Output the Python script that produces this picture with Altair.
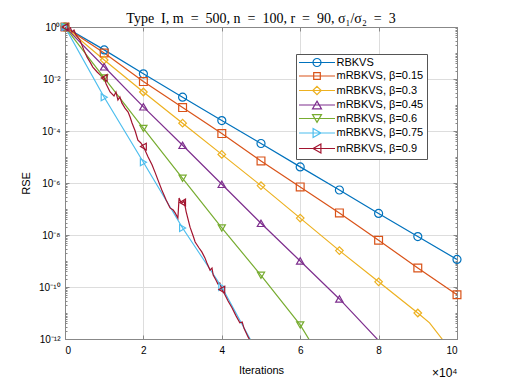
import altair as alt
import pandas as pd

series_names = ["RBKVS", "mRBKVS, β=0.15", "mRBKVS, β=0.3", "mRBKVS, β=0.45",
                "mRBKVS, β=0.6", "mRBKVS, β=0.75", "mRBKVS, β=0.9"]
colors = ["#0072BD", "#D95319", "#EDB120", "#7E2F8E", "#77AC30", "#4DBEEE", "#A2142F"]
marker_shapes = ["circle", "square", "diamond", "triangle-up", "triangle-down",
                 "triangle-right", "triangle-left"]
marker_sizes = [64, 45, 64, 81, 81, 81, 81]

# iterations (x 10^4) and log10(RSE)
rbkvs_x = [0, 1, 2, 3, 4, 5, 6, 7, 8, 9, 10]
rbkvs_log10 = [0, -0.88, -1.80, -2.70, -3.60, -4.48, -5.38, -6.27, -7.17, -8.06, -8.94]

b015_x = [0, 1, 2, 3, 4, 5, 6, 7, 8, 9, 10]
b015_log10 = [0, -1.00, -2.10, -3.10, -4.10, -5.15, -6.15, -7.15, -8.20, -9.27, -10.30]

b03_x = [0, 1, 2, 3, 4, 5, 6, 7, 8, 9, 9.3, 9.62, 9.7]
b03_log10 = [0, -1.27, -2.50, -3.70, -4.90, -6.10, -7.35, -8.60, -9.80, -11.00, -11.38, -12.0, -12.2]

b045_x = [0, 1, 2, 3, 4, 5, 6, 7, 8.0]
b045_log10 = [0, -1.53, -3.07, -4.55, -6.05, -7.55, -9.00, -10.46, -12.06]

b06_x = [0, 1, 2, 3, 4, 5, 6, 6.3]
b06_log10 = [0, -1.96, -3.90, -5.82, -7.73, -9.55, -11.46, -12.2]

b075_x = [0, 1, 2, 3, 4, 4.8]
b075_log10 = [0, -2.70, -5.20, -7.73, -10.00, -12.22]

b09_x = [0, 0.08, 0.13, 0.18, 0.23, 0.28, 0.38, 0.48, 0.56, 0.64, 0.71, 0.82, 0.92, 1.0,
         1.05, 1.15, 1.25, 1.3, 1.35, 1.4, 1.45, 1.53, 1.61, 1.66, 1.71, 1.79, 1.86, 1.93, 2.0,
         2.12, 2.22, 2.3, 2.37, 2.47, 2.58, 2.68, 2.76, 2.81, 2.88, 2.91, 2.95, 3.0,
         3.04, 3.09, 3.19, 3.27, 3.32, 3.42, 3.49, 3.57, 3.62, 3.7, 3.75, 3.78, 3.85, 3.9, 3.95, 4.0,
         4.08, 4.16, 4.26, 4.36, 4.46, 4.52, 4.57, 4.67, 4.74, 4.8]
b09_log10 = [0, -0.12, 0.0, -0.19, -0.12, -0.31, -0.5, -0.88, -1.15, -1.35, -1.54, -1.73, -1.88, -1.96,
             -2.19, -2.5, -2.65, -2.5, -2.81, -2.69, -2.92, -3.12, -3.27, -3.46, -3.69, -4.0, -4.35, -4.45, -4.6,
             -5.0, -5.3, -5.6, -5.88, -6.27, -6.65, -6.96, -7.04, -7.15, -7.35, -6.58, -6.72, -6.75,
             -6.7, -7.1, -7.7, -8.04, -8.27, -8.5, -8.65, -8.88, -9.08, -9.35, -9.27, -9.54, -9.73, -9.88, -9.85, -10.1,
             -10.3, -10.54, -10.8, -11.1, -11.38, -11.35, -11.6, -11.92, -12.1, -12.3]

x_tick_values = [0, 2, 4, 6, 8, 10]
y_major_exponents = [0, -2, -4, -6, -8, -10, -12]
y_major_labels = ["10⁰", "10⁻²", "10⁻⁴", "10⁻⁶", "10⁻⁸", "10⁻¹⁰", "10⁻¹²"]

all_x = [rbkvs_x, b015_x, b03_x, b045_x, b06_x, b075_x, b09_x]
all_log = [rbkvs_log10, b015_log10, b03_log10, b045_log10, b06_log10, b075_log10, b09_log10]

rows = []
for name, xs_, ls in zip(series_names, all_x, all_log):
    assert len(xs_) == len(ls)
    for xv, lv in zip(xs_, ls):
        rows.append({"series": name, "x": xv, "rse": 10.0 ** lv,
                     "marker": (float(xv).is_integer() and lv >= -12.0)})
df = pd.DataFrame(rows)
df["series_m"] = df["series"]
markers_df = df[df["marker"]].copy()
legend_df = markers_df[markers_df["x"] == 0].copy()

y_major = [10.0 ** e for e in y_major_exponents]
y_minor = []
for e in range(-12, 0):
    for k in range(1, 10):
        if k == 1 and e % 2 == 0:
            continue
        y_minor.append(k * 10.0 ** e)

W, H = 392, 312
label_expr = "[" + ",".join("'%s'" % s for s in y_major_labels) + "][round(-log(datum.value)/LN10/2)]"

# legend symbols: line segment + marker outline (unit = sqrt(size)/2 = 3.5 px)
line_seg = "M-5.14,0L5.14,0"
legend_paths = [
    line_seg + "M1.143,0A1.143,1.143,0,1,1,-1.143,0A1.143,1.143,0,1,1,1.143,0Z",
    line_seg + "M-0.943,-0.943L0.943,-0.943L0.943,0.943L-0.943,0.943Z",
    line_seg + "M0,-1.2L1.2,0L0,1.2L-1.2,0Z",
    line_seg + "M0,-1.114L1.286,1.114L-1.286,1.114Z",
    line_seg + "M0,1.114L1.286,-1.114L-1.286,-1.114Z",
    line_seg + "M1.114,0L-1.114,-1.286L-1.114,1.286Z",
    line_seg + "M-1.114,0L1.114,-1.286L1.114,1.286Z",
]

xs = alt.Scale(domain=[0, 10], nice=False, zero=False)
ys = alt.Scale(type="log", domain=[1e-12, 1], nice=False)
cscale = alt.Scale(domain=series_names, range=colors)

tick_col = "#262626"
fw = "normal"
sans = "Liberation Sans"

legend_props = dict(padding=3, strokeColor="#555555", fillColor="white", labelFont=sans,
                    labelFontSize=11, labelColor="#000000", symbolSize=49, symbolStrokeWidth=1.2,
                    symbolOffset=12.5, labelOffset=14, rowPadding=0.5, symbolOpacity=1,
                    labelLimit=300, cornerRadius=0)

lines = alt.Chart(df).mark_line(clip=True, strokeWidth=1.2).encode(
    x=alt.X("x:Q", scale=xs, axis=alt.Axis(orient="bottom", values=x_tick_values, ticks=False,
                                           tickSize=0, labelPadding=6, title="Iterations",
                                           titleY=34, titleBaseline="alphabetic",
                                           titleFontWeight=fw)),
    y=alt.Y("rse:Q", scale=ys, axis=alt.Axis(orient="left", values=y_major, labelExpr=label_expr,
                                             ticks=False, tickSize=0, labelPadding=5, title="RSE",
                                             titleX=-34, titleY=H / 2, titleFontWeight=fw)),
    color=alt.Color("series:N", scale=cscale, legend=None),
)

markers = alt.Chart(markers_df).mark_point(filled=False, strokeWidth=1.2, opacity=1).encode(
    x=alt.X("x:Q", scale=xs, axis=alt.Axis(orient="top", offset=-H, values=x_tick_values,
                                           labels=False, tickSize=4, title=None)),
    y=alt.Y("rse:Q", scale=ys, axis=alt.Axis(orient="right", offset=-W, values=y_major,
                                             labels=False, tickSize=4, title=None)),
    color=alt.Color("series:N", scale=cscale, legend=None),
    shape=alt.Shape("series_m:N", scale=alt.Scale(domain=series_names, range=marker_shapes), legend=None),
    size=alt.Size("series_m:N", scale=alt.Scale(domain=series_names, range=marker_sizes), legend=None),
)

leg = alt.Legend(title=None, orient="none", legendX=231, legendY=27, **legend_props)

legend_layer = alt.Chart(legend_df).mark_point(filled=False, strokeWidth=1.2, size=49, opacity=0).encode(
    x=alt.X("x:Q", scale=xs, axis=alt.Axis(orient="bottom", offset=-H, values=x_tick_values,
                                           labels=False, tickSize=4, title=None)),
    y=alt.Y("rse:Q", scale=ys, axis=alt.Axis(orient="right", offset=-W, values=y_minor,
                                             labels=False, tickSize=2, title=None)),
    color=alt.Color("series:N", scale=cscale, legend=leg),
    shape=alt.Shape("series:N", scale=alt.Scale(domain=series_names, range=legend_paths), legend=leg),
)

extra1 = alt.Chart(legend_df).mark_point(opacity=0).encode(
    x=alt.X("x:Q", scale=xs, axis=alt.Axis(orient="bottom", labels=False, ticks=False, tickSize=0,
                                           title="×10⁴", titleX=W, titleY=37, titleAlign="right",
                                           titleBaseline="alphabetic", titleFontSize=12,
                                           titleFontWeight=fw)),
    y=alt.Y("rse:Q", scale=ys, axis=alt.Axis(orient="left", offset=-W, values=y_major,
                                             labels=False, tickSize=4, title=None)),
)

extra2 = alt.Chart(legend_df).mark_point(opacity=0).encode(
    x=alt.X("x:Q", scale=xs, axis=None),
    y=alt.Y("rse:Q", scale=ys, axis=alt.Axis(orient="left", offset=-W, values=y_minor,
                                             labels=False, tickSize=2, title=None)),
)

title_text = "Type\u2002I, m\u2002=\u2002500, n\u2002=\u2002100, r\u2002=\u200290, σ₁/σ₂\u2002=\u20023"

chart = alt.layer(lines, markers, legend_layer, extra1, extra2).resolve_axis(
    x="independent", y="independent"
).resolve_scale(shape="independent", size="independent", color="independent").properties(
    width=W, height=H,
    autosize=alt.AutoSizeParams(type="none"),
    padding={"left": 57, "top": 19, "right": 40, "bottom": 40},
    title=alt.TitleParams(title_text, font="Liberation Serif",
                          fontSize=14, fontWeight="normal", color="#000000", offset=-5,
                          anchor="middle", frame="group"),
).configure_view(
    stroke="#4d4d4d", strokeWidth=1
).configure_axis(
    grid=False, domain=False, tickColor=tick_col, tickWidth=0.8, labelColor=tick_col,
    titleColor=tick_col, labelFont=sans, titleFont=sans,
    labelFontSize=11, titleFontSize=12.5, titleFontWeight="normal"
).configure_legend(
    **legend_props
).configure(background="white")

chart.save("out.html", embed_options={"renderer": "svg", "actions": False})
